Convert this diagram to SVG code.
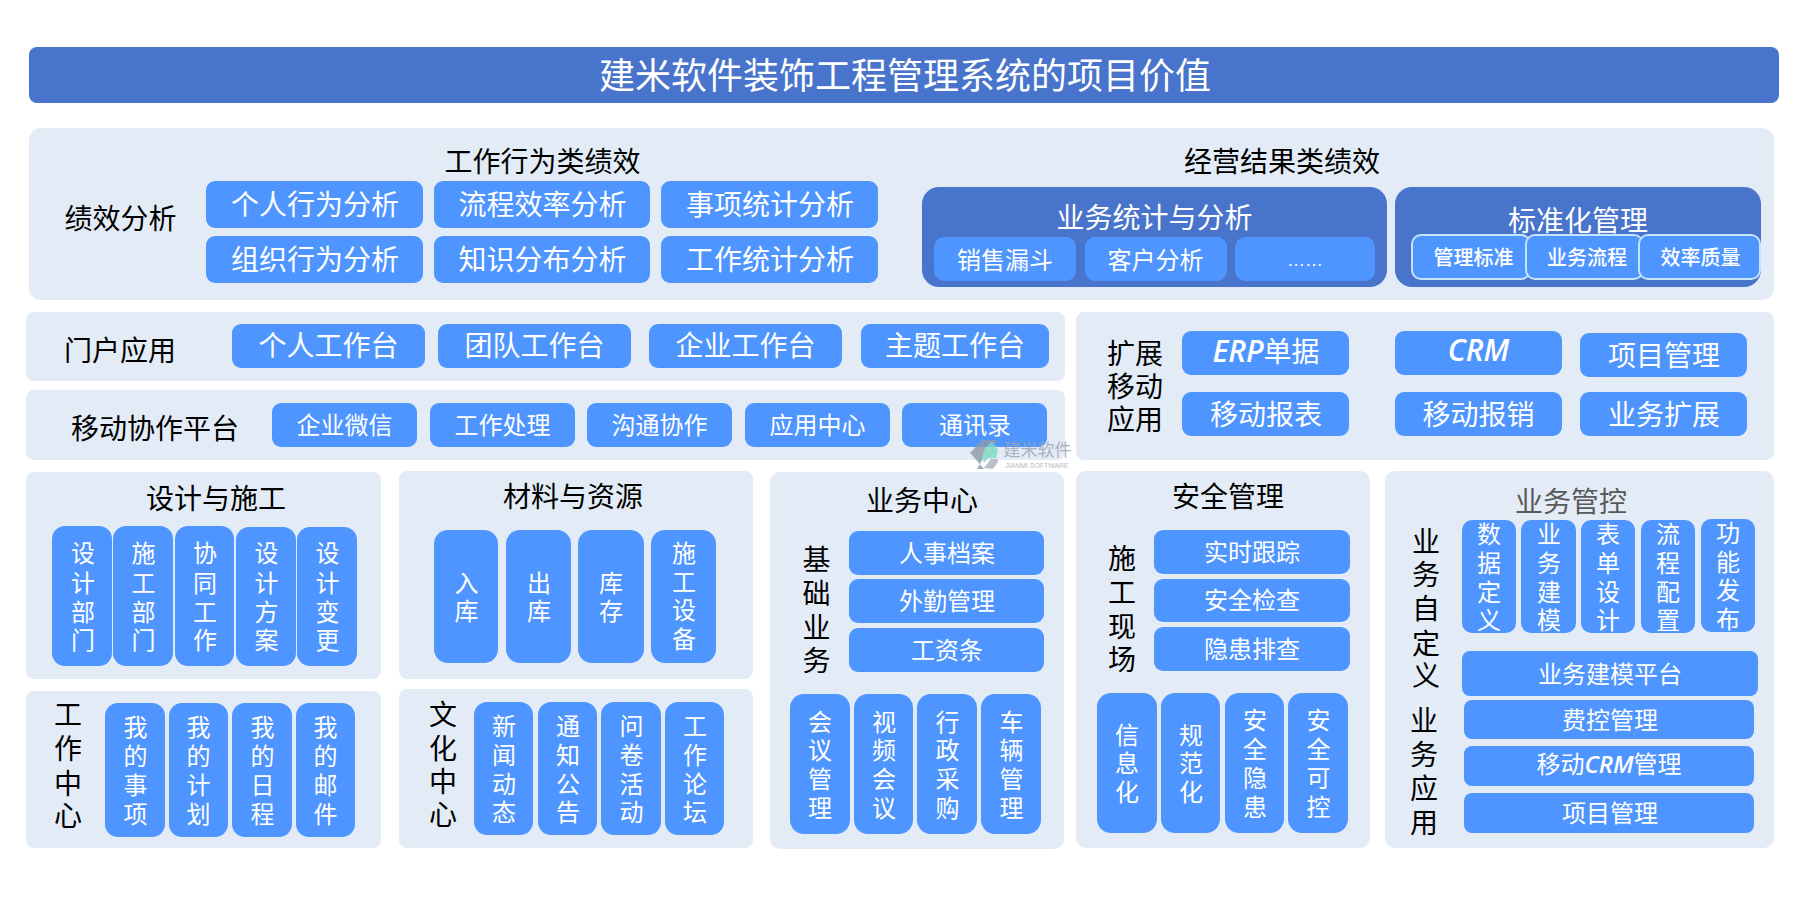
<svg xmlns="http://www.w3.org/2000/svg" width="1799" height="898" viewBox="0 0 1799 898">
<style>
text{font-family:"Liberation Sans","Noto Sans CJK SC",sans-serif;text-anchor:middle;dominant-baseline:central;fill:#000}
.p{fill:#e3ecf6}
.b{fill:#4f95ff}
.d{fill:#4874cb}
.o{fill:#4f95ff;stroke:#c4e4fc;stroke-width:2}
.w{fill:#fff}
.s36{font-size:36px}
.s28{font-size:28px}
.s24{font-size:24px}
.s20{font-size:20px;font-weight:500}
.a{dominant-baseline:alphabetic}
.l{font-family:"Open Sans","Liberation Sans",sans-serif;font-style:italic;font-weight:600}
</style>
<rect width="1799" height="898" fill="#fff"/>
<g id="title"><rect class="d" x="29" y="47" width="1750" height="56" rx="8"/><text class="w s36" x="905" y="76">建米软件装饰工程管理系统的项目价值</text></g>

<g id="performance">
<rect class="p" x="29" y="128" width="1745" height="172" rx="12"/>
<text class="s28" x="120.500" y="219">绩效分析</text>
<text class="s28" x="542.500" y="162">工作行为类绩效</text>
<text class="s28" x="1282" y="162">经营结果类绩效</text>
<g id="p1"><rect class="b" x="206" y="181" width="217" height="47" rx="9"/><text class="w s28" x="315" y="205.500">个人行为分析</text></g>
<g id="p2"><rect class="b" x="434" y="181" width="216" height="47" rx="9"/><text class="w s28" x="542.500" y="205.500">流程效率分析</text></g>
<g id="p3"><rect class="b" x="661" y="181" width="217" height="47" rx="9"/><text class="w s28" x="770" y="205.500">事项统计分析</text></g>
<g id="p4"><rect class="b" x="206" y="236" width="217" height="47" rx="9"/><text class="w s28" x="315" y="260.500">组织行为分析</text></g>
<g id="p5"><rect class="b" x="434" y="236" width="216" height="47" rx="9"/><text class="w s28" x="542.500" y="260.500">知识分布分析</text></g>
<g id="p6"><rect class="b" x="661" y="236" width="217" height="47" rx="9"/><text class="w s28" x="770" y="260.500">工作统计分析</text></g>
<g id="stats"><rect class="d" x="922" y="187" width="465" height="100" rx="17"/><text class="w s28" x="1154.500" y="218.500">业务统计与分析</text>
<g id="s1"><rect class="b" x="934" y="237" width="142" height="44" rx="10"/><text class="w s24" x="1005" y="260">销售漏斗</text></g>
<g id="s2"><rect class="b" x="1085" y="237" width="142" height="44" rx="10"/><text class="w s24" x="1155.500" y="260">客户分析</text></g>
<g id="s3"><rect class="b" x="1235" y="237" width="140" height="44" rx="10"/><text class="w a" x="1305" y="266" style="font-size:18px">……</text></g>
</g>
<g id="standard"><rect class="d" x="1395" y="187" width="366" height="100" rx="17"/><text class="w s28" x="1578" y="221.500">标准化管理</text>
<g id="t1"><rect class="o" x="1412" y="235" width="118" height="44" rx="9"/><text class="w s20" x="1473.500" y="258">管理标准</text></g>
<g id="t2"><rect class="o" x="1526" y="235" width="117" height="44" rx="9"/><text class="w s20" x="1587" y="258">业务流程</text></g>
<g id="t3"><rect class="o" x="1639" y="235" width="121" height="44" rx="9"/><text class="w s20" x="1700.500" y="258">效率质量</text></g>
</g>
</g>

<g id="portal">
<rect class="p" x="26" y="312" width="1039" height="69" rx="8"/>
<text class="s28" x="120" y="351">门户应用</text>
<g id="d1"><rect class="b" x="232" y="324" width="193" height="44" rx="9"/><text class="w s28" x="328.500" y="346.500">个人工作台</text></g>
<g id="d2"><rect class="b" x="438" y="324" width="193" height="44" rx="9"/><text class="w s28" x="534.500" y="346.500">团队工作台</text></g>
<g id="d3"><rect class="b" x="649" y="324" width="193" height="44" rx="9"/><text class="w s28" x="745.500" y="346.500">企业工作台</text></g>
<g id="d4"><rect class="b" x="861" y="324" width="188" height="44" rx="9"/><text class="w s28" x="955" y="346.500">主题工作台</text></g>
</g>

<g id="mobile">
<rect class="p" x="26" y="390" width="1039" height="70" rx="8"/>
<text class="s28" x="155" y="429.500">移动协作平台</text>
<g id="m1"><rect class="b" x="272" y="403" width="145" height="44" rx="9"/><text class="w s24" x="344.500" y="425">企业微信</text></g>
<g id="m2"><rect class="b" x="430" y="403" width="145" height="44" rx="9"/><text class="w s24" x="502.500" y="425">工作处理</text></g>
<g id="m3"><rect class="b" x="587" y="403" width="145" height="44" rx="9"/><text class="w s24" x="659.500" y="425">沟通协作</text></g>
<g id="m4"><rect class="b" x="745" y="403" width="145" height="44" rx="9"/><text class="w s24" x="817.500" y="425">应用中心</text></g>
<g id="m5"><rect class="b" x="902" y="403" width="145" height="44" rx="9"/><text class="w s24" x="975" y="425">通讯录</text></g>
</g>

<g id="extension">
<rect class="p" x="1076" y="312" width="698" height="148" rx="8"/>
<text class="s28"><tspan x="1135" y="353.500">扩展</tspan><tspan x="1135" y="386.500">移动</tspan><tspan x="1135" y="419.500">应用</tspan></text>
<g id="e1"><rect class="b" x="1182" y="331" width="167" height="44" rx="9"/><text class="w s28 a" x="1266" y="361.500"><tspan class="l" style="font-size:30px">ERP</tspan>单据</text></g>
<g id="e2"><rect class="b" x="1395" y="331" width="167" height="44" rx="9"/><text class="w l a" style="font-size:30px" x="1478.500" y="361">CRM</text></g>
<g id="e3"><rect class="b" x="1580" y="333" width="167" height="44" rx="9"/><text class="w s28" x="1664" y="356.500">项目管理</text></g>
<g id="e4"><rect class="b" x="1182" y="392" width="167" height="44" rx="9"/><text class="w s28" x="1266" y="415.500">移动报表</text></g>
<g id="e5"><rect class="b" x="1395" y="392" width="167" height="44" rx="9"/><text class="w s28" x="1478.500" y="415.500">移动报销</text></g>
<g id="e6"><rect class="b" x="1580" y="392" width="167" height="44" rx="9"/><text class="w s28" x="1664" y="415.500">业务扩展</text></g>
</g>

<g id="design">
<rect class="p" x="26" y="472" width="355" height="207" rx="8"/>
<text class="s28" x="216" y="499.500">设计与施工</text>
<g id="c1"><rect class="b" x="52" y="526" width="60" height="140" rx="13"/><text class="w s24"><tspan x="83" y="553">设</tspan><tspan x="83" y="583">计</tspan><tspan x="83" y="612">部</tspan><tspan x="83" y="640">门</tspan></text></g>
<g id="c2"><rect class="b" x="113" y="526" width="60" height="140" rx="13"/><text class="w s24"><tspan x="143.500" y="553">施</tspan><tspan x="143.500" y="583">工</tspan><tspan x="143.500" y="612">部</tspan><tspan x="143.500" y="640">门</tspan></text></g>
<g id="c3"><rect class="b" x="175" y="526" width="59" height="140" rx="13"/><text class="w s24"><tspan x="205" y="553">协</tspan><tspan x="205" y="583">同</tspan><tspan x="205" y="612">工</tspan><tspan x="205" y="640">作</tspan></text></g>
<g id="c4"><rect class="b" x="236" y="527" width="60" height="139" rx="13"/><text class="w s24"><tspan x="266.500" y="553">设</tspan><tspan x="266.500" y="583">计</tspan><tspan x="266.500" y="612">方</tspan><tspan x="266.500" y="640">案</tspan></text></g>
<g id="c5"><rect class="b" x="297" y="527" width="60" height="139" rx="13"/><text class="w s24"><tspan x="327.500" y="553">设</tspan><tspan x="327.500" y="583">计</tspan><tspan x="327.500" y="612">变</tspan><tspan x="327.500" y="640">更</tspan></text></g>
</g>

<g id="work">
<rect class="p" x="26" y="691" width="355" height="157" rx="8"/>
<text class="s28"><tspan x="68" y="714.500">工</tspan><tspan x="68" y="748.500">作</tspan><tspan x="68" y="783.500">中</tspan><tspan x="68" y="815.500">心</tspan></text>
<g id="w1"><rect class="b" x="105" y="703" width="60" height="134" rx="13"/><text class="w s24"><tspan x="135.500" y="727">我</tspan><tspan x="135.500" y="756">的</tspan><tspan x="135.500" y="785">事</tspan><tspan x="135.500" y="814">项</tspan></text></g>
<g id="w2"><rect class="b" x="169" y="703" width="59" height="134" rx="13"/><text class="w s24"><tspan x="198.500" y="727">我</tspan><tspan x="198.500" y="756">的</tspan><tspan x="198.500" y="785">计</tspan><tspan x="198.500" y="814">划</tspan></text></g>
<g id="w3"><rect class="b" x="232" y="703" width="60" height="134" rx="13"/><text class="w s24"><tspan x="262.500" y="727">我</tspan><tspan x="262.500" y="756">的</tspan><tspan x="262.500" y="785">日</tspan><tspan x="262.500" y="814">程</tspan></text></g>
<g id="w4"><rect class="b" x="296" y="703" width="59" height="134" rx="13"/><text class="w s24"><tspan x="325.500" y="727">我</tspan><tspan x="325.500" y="756">的</tspan><tspan x="325.500" y="785">邮</tspan><tspan x="325.500" y="814">件</tspan></text></g>
</g>

<g id="material">
<rect class="p" x="399" y="471" width="354" height="208" rx="8"/>
<text class="s28" x="573" y="497.500">材料与资源</text>
<g id="r1"><rect class="b" x="434" y="530" width="64" height="133" rx="14"/><text class="w s24"><tspan x="466.500" y="583">入</tspan><tspan x="466.500" y="611">库</tspan></text></g>
<g id="r2"><rect class="b" x="506" y="530" width="65" height="133" rx="14"/><text class="w s24"><tspan x="539" y="583">出</tspan><tspan x="539" y="611">库</tspan></text></g>
<g id="r3"><rect class="b" x="578" y="530" width="66" height="133" rx="14"/><text class="w s24"><tspan x="611" y="583">库</tspan><tspan x="611" y="611">存</tspan></text></g>
<g id="r4"><rect class="b" x="651" y="530" width="65" height="133" rx="14"/><text class="w s24"><tspan x="684" y="553">施</tspan><tspan x="684" y="582">工</tspan><tspan x="684" y="610">设</tspan><tspan x="684" y="639">备</tspan></text></g>
</g>

<g id="culture">
<rect class="p" x="399" y="689" width="354" height="159" rx="8"/>
<text class="s28"><tspan x="443" y="714.500">文</tspan><tspan x="443" y="748.500">化</tspan><tspan x="443" y="781.500">中</tspan><tspan x="443" y="814.500">心</tspan></text>
<g id="u1"><rect class="b" x="474" y="702" width="59" height="133" rx="13"/><text class="w s24"><tspan x="504" y="726">新</tspan><tspan x="504" y="755">闻</tspan><tspan x="504" y="784">动</tspan><tspan x="504" y="812">态</tspan></text></g>
<g id="u2"><rect class="b" x="538" y="702" width="59" height="133" rx="13"/><text class="w s24"><tspan x="568" y="726">通</tspan><tspan x="568" y="755">知</tspan><tspan x="568" y="784">公</tspan><tspan x="568" y="812">告</tspan></text></g>
<g id="u3"><rect class="b" x="601" y="702" width="60" height="133" rx="13"/><text class="w s24"><tspan x="631.500" y="726">问</tspan><tspan x="631.500" y="755">卷</tspan><tspan x="631.500" y="784">活</tspan><tspan x="631.500" y="812">动</tspan></text></g>
<g id="u4"><rect class="b" x="665" y="702" width="59" height="133" rx="13"/><text class="w s24"><tspan x="695" y="726">工</tspan><tspan x="695" y="755">作</tspan><tspan x="695" y="784">论</tspan><tspan x="695" y="812">坛</tspan></text></g>
</g>

<g id="business">
<rect class="p" x="770" y="472" width="294" height="377" rx="10"/>
<text class="s28" x="922" y="501.500">业务中心</text>
<text class="s28"><tspan x="816.500" y="559.500">基</tspan><tspan x="816.500" y="593.500">础</tspan><tspan x="816.500" y="627.500">业</tspan><tspan x="816.500" y="660.500">务</tspan></text>
<g id="b1"><rect class="b" x="849" y="531" width="195" height="44" rx="9"/><text class="w s24" x="947" y="553">人事档案</text></g>
<g id="b2"><rect class="b" x="849" y="579" width="195" height="44" rx="9"/><text class="w s24" x="947" y="601">外勤管理</text></g>
<g id="b3"><rect class="b" x="849" y="628" width="195" height="44" rx="9"/><text class="w s24" x="947" y="650">工资条</text></g>
<g id="b4"><rect class="b" x="790" y="694" width="60" height="140" rx="14"/><text class="w s24"><tspan x="820" y="722">会</tspan><tspan x="820" y="750">议</tspan><tspan x="820" y="779">管</tspan><tspan x="820" y="808">理</tspan></text></g>
<g id="b5"><rect class="b" x="854" y="694" width="59" height="140" rx="14"/><text class="w s24"><tspan x="884" y="722">视</tspan><tspan x="884" y="750">频</tspan><tspan x="884" y="779">会</tspan><tspan x="884" y="808">议</tspan></text></g>
<g id="b6"><rect class="b" x="917" y="694" width="60" height="140" rx="14"/><text class="w s24"><tspan x="947.500" y="722">行</tspan><tspan x="947.500" y="750">政</tspan><tspan x="947.500" y="779">采</tspan><tspan x="947.500" y="808">购</tspan></text></g>
<g id="b7"><rect class="b" x="981" y="694" width="60" height="140" rx="14"/><text class="w s24"><tspan x="1011.500" y="722">车</tspan><tspan x="1011.500" y="750">辆</tspan><tspan x="1011.500" y="779">管</tspan><tspan x="1011.500" y="808">理</tspan></text></g>
</g>

<g id="safety">
<rect class="p" x="1076" y="471" width="294" height="377" rx="10"/>
<text class="s28" x="1228" y="497.500">安全管理</text>
<text class="s28"><tspan x="1122" y="558.500">施</tspan><tspan x="1122" y="592.500">工</tspan><tspan x="1122" y="626.500">现</tspan><tspan x="1122" y="659.500">场</tspan></text>
<g id="a1"><rect class="b" x="1154" y="530" width="196" height="44" rx="9"/><text class="w s24" x="1252" y="552">实时跟踪</text></g>
<g id="a2"><rect class="b" x="1154" y="579" width="196" height="43" rx="9"/><text class="w s24" x="1252" y="600">安全检查</text></g>
<g id="a3"><rect class="b" x="1154" y="627" width="196" height="44" rx="9"/><text class="w s24" x="1252" y="649">隐患排查</text></g>
<g id="a4"><rect class="b" x="1097" y="693" width="60" height="140" rx="14"/><text class="w s24"><tspan x="1127" y="735">信</tspan><tspan x="1127" y="763">息</tspan><tspan x="1127" y="792">化</tspan></text></g>
<g id="a5"><rect class="b" x="1161" y="693" width="59" height="140" rx="14"/><text class="w s24"><tspan x="1191" y="735">规</tspan><tspan x="1191" y="763">范</tspan><tspan x="1191" y="792">化</tspan></text></g>
<g id="a6"><rect class="b" x="1225" y="693" width="59" height="140" rx="14"/><text class="w s24"><tspan x="1255" y="720">安</tspan><tspan x="1255" y="749">全</tspan><tspan x="1255" y="778">隐</tspan><tspan x="1255" y="807">患</tspan></text></g>
<g id="a7"><rect class="b" x="1288" y="693" width="60" height="140" rx="14"/><text class="w s24"><tspan x="1318.500" y="720">安</tspan><tspan x="1318.500" y="749">全</tspan><tspan x="1318.500" y="778">可</tspan><tspan x="1318.500" y="807">控</tspan></text></g>
</g>

<g id="control">
<rect class="p" x="1385" y="471" width="389" height="377" rx="10"/>
<text class="s28" x="1571" y="502.500" style="fill:#595959">业务管控</text>
<text class="s28"><tspan x="1426" y="541.500">业</tspan><tspan x="1426" y="574.500">务</tspan><tspan x="1426" y="608.500">自</tspan><tspan x="1426" y="643.500">定</tspan><tspan x="1426" y="675.500">义</tspan></text>
<text class="s28"><tspan x="1424" y="720.500">业</tspan><tspan x="1424" y="754.500">务</tspan><tspan x="1424" y="788.500">应</tspan><tspan x="1424" y="822.500">用</tspan></text>
<g id="k1"><rect class="b" x="1462" y="520" width="54" height="113" rx="10"/><text class="w s24"><tspan x="1489" y="534">数</tspan><tspan x="1489" y="563">据</tspan><tspan x="1489" y="592">定</tspan><tspan x="1489" y="620">义</tspan></text></g>
<g id="k2"><rect class="b" x="1521" y="520" width="55" height="113" rx="10"/><text class="w s24"><tspan x="1549" y="534">业</tspan><tspan x="1549" y="563">务</tspan><tspan x="1549" y="592">建</tspan><tspan x="1549" y="620">模</tspan></text></g>
<g id="k3"><rect class="b" x="1581" y="520" width="54" height="113" rx="10"/><text class="w s24"><tspan x="1608" y="534">表</tspan><tspan x="1608" y="563">单</tspan><tspan x="1608" y="592">设</tspan><tspan x="1608" y="620">计</tspan></text></g>
<g id="k4"><rect class="b" x="1641" y="520" width="54" height="113" rx="10"/><text class="w s24"><tspan x="1668" y="534">流</tspan><tspan x="1668" y="563">程</tspan><tspan x="1668" y="592">配</tspan><tspan x="1668" y="620">置</tspan></text></g>
<g id="k5"><rect class="b" x="1701" y="519" width="54" height="113" rx="10"/><text class="w s24"><tspan x="1728" y="533">功</tspan><tspan x="1728" y="562">能</tspan><tspan x="1728" y="590">发</tspan><tspan x="1728" y="619">布</tspan></text></g>
<g id="k6"><rect class="b" x="1462" y="651" width="296" height="45" rx="8"/><text class="w s24" x="1610" y="674">业务建模平台</text></g>
<g id="k7"><rect class="b" x="1464" y="700" width="290" height="39" rx="8"/><text class="w s24" x="1610" y="720">费控管理</text></g>
<g id="k8"><rect class="b" x="1464" y="746" width="290" height="40" rx="8"/><text class="w s24 a" x="1609" y="772.500">移动<tspan class="l">CRM</tspan>管理</text></g>
<g id="k9"><rect class="b" x="1464" y="793" width="290" height="40" rx="8"/><text class="w s24" x="1610" y="813.500">项目管理</text></g>
</g>

<g id="watermark" opacity="0.8">
<polygon points="982,440 998,440 987,452 977,469 984,469 972,455 970,453" fill="#8f98a8"/>
<polygon points="992,441 998,450 996,458 988,458 984,463 982,457 985,448" fill="#7fd9c2"/>
<polygon points="984,468 991,459 998,459 998,462 993,469" fill="#a9b0bf"/>
<text x="1037.500" y="450.500" style="font-size:17px;fill:#9aa3b2">建米软件</text>
<text x="1037" y="465.500" style="font-size:6.900px;fill:#a4abb8">JIANMI SOFTWARE</text>
</g>
</svg>
